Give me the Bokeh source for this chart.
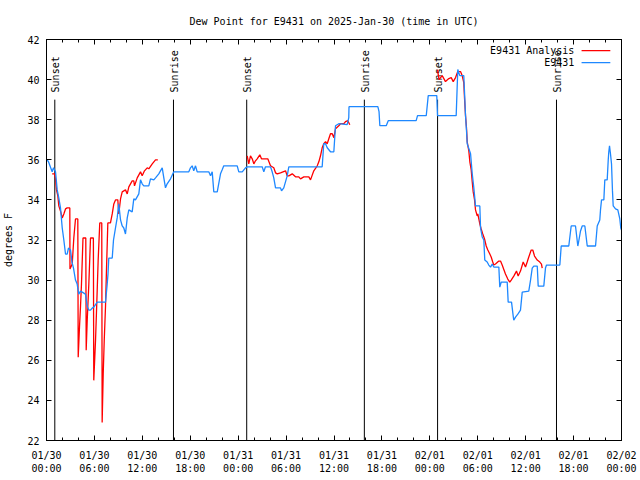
from math import pi
from bokeh.plotting import figure
from bokeh.models import Range1d, FixedTicker, LinearAxis, CustomLabelingPolicy
from bokeh.core.properties import value
from bokeh.embed import file_html
from bokeh.resources import INLINE

FONT = "DejaVu Sans Mono"
RED = "#ff0000"
BLUE = "#1e88ff"

title_text = "Dew Point for E9431 on 2025-Jan-30 (time in UTC)"
y_label = "degrees F"

# x in hours since 2025-01-30 00:00 UTC
x_ticks = [0, 6, 12, 18, 24, 30, 36, 42, 48, 54, 60, 66, 72]
x_tick_labels = ["01/30\n00:00", "01/30\n06:00", "01/30\n12:00", "01/30\n18:00",
                 "01/31\n00:00", "01/31\n06:00", "01/31\n12:00", "01/31\n18:00",
                 "02/01\n00:00", "02/01\n06:00", "02/01\n12:00", "02/01\n18:00",
                 "02/02\n00:00"]
y_ticks = [22, 24, 26, 28, 30, 32, 34, 36, 38, 40, 42]

sun_t = [1.04, 15.9, 25.07, 39.8, 48.97, 63.86]
sun_labels = ["Sunset", "Sunrise", "Sunset", "Sunrise", "Sunset", "Sunrise"]

series_names = ["E9431 Analysis", "E9431"]

# Observations (E9431)
obs_t = [0.0, 0.09, 0.25, 0.71, 0.88, 1.13, 1.34, 1.54, 1.75, 1.97, 2.17, 2.38, 2.59, 2.75,
         3.01, 3.19, 3.38, 3.63, 3.84, 4.04, 4.26, 4.47, 4.88, 5.10, 5.30, 5.51, 5.72, 5.92,
         6.35, 7.39, 7.60, 7.70, 7.80, 8.23, 8.39, 8.64, 8.85, 9.05, 9.27, 9.48, 9.68, 9.89,
         10.11, 10.31, 10.73, 10.93, 11.14, 11.56, 11.77, 11.98, 12.18, 12.81, 13.02, 13.44,
         13.65, 14.06, 14.27, 14.49, 14.69, 14.90, 15.11, 15.53, 15.94, 17.82, 18.03, 18.24,
         18.44, 18.66, 18.87, 20.32, 20.54, 20.75, 20.95, 21.38, 21.79, 22.00, 22.20, 23.88,
         24.08, 24.51, 24.92, 25.13, 27.01, 27.21, 27.42, 28.05, 28.26, 28.46, 28.68, 28.76,
         29.30, 29.43, 29.71, 30.14, 30.34, 34.52, 34.72, 34.94, 35.15, 35.56, 35.98, 36.19,
         36.60, 37.65, 37.85, 37.88, 41.49, 41.64, 41.74, 42.54, 42.79, 46.29, 46.46, 47.55,
         47.80, 48.87, 48.96, 51.30, 51.50, 51.75, 52.25, 52.34, 52.47, 52.60, 52.68, 53.10,
         53.31, 53.51, 53.72, 54.26, 54.35, 54.56, 54.76, 54.88, 55.18, 55.38, 55.60, 55.81,
         56.01, 56.64, 56.76, 56.94, 57.69, 57.81, 58.23, 58.44, 58.51, 58.73, 59.02, 59.35,
         59.57, 60.39, 60.61, 60.82, 61.02, 61.45, 61.57, 62.27, 62.48, 62.61, 64.28, 64.45,
         65.40, 65.70, 66.24, 66.53, 66.65, 66.87, 67.08, 67.41, 67.71, 68.75, 68.96, 69.28,
         69.37, 69.50, 69.79, 69.91, 70.21, 70.34, 70.41, 70.50, 70.62, 70.75, 70.87, 70.96,
         71.25, 71.54, 71.79, 71.91, 72.0]
obs_v = [36.0, 36.0, 35.9, 35.4, 35.6, 35.4, 34.5, 34.1, 33.6, 32.6, 32.0, 31.3, 31.3, 31.6,
         31.5, 30.9, 30.6, 30.0, 29.8, 29.3, 29.45, 29.4, 29.3, 28.7, 28.5, 28.5, 28.6, 28.65,
         28.9, 28.9, 29.8, 30.3, 31.1, 31.1, 32.0, 32.6, 33.1, 33.8, 33.0, 32.7, 32.6, 32.3,
         33.1, 33.5, 33.4, 34.05, 34.0, 34.3, 35.0, 34.8, 34.7, 34.7, 35.05, 35.0,
         35.1, 35.3, 35.45, 35.6, 35.1, 34.6, 34.8, 35.05, 35.4, 35.4, 35.6, 35.7,
         35.45, 35.7, 35.4, 35.4, 35.2, 35.4, 34.4, 34.4, 35.3, 35.5, 35.7, 35.7,
         35.4, 35.4, 35.6, 35.65, 35.65, 35.4, 35.65, 35.65, 35.4, 35.1, 34.6, 34.6,
         34.6, 34.45, 34.6, 35.2, 35.65, 35.65, 36.8, 36.8, 36.6, 36.4, 36.4, 37.7,
         37.8, 37.75, 38.1, 38.65, 38.65, 38.4, 37.7, 37.7, 37.95, 37.95, 38.2, 38.2,
         39.2, 39.2, 38.2, 38.2, 40.5, 40.2, 40.2, 39.4, 38.2, 37.4, 36.8, 36.3,
         35.3, 34.6, 33.7, 33.7, 32.6, 32.15, 32.0, 31.0, 30.9, 30.75, 30.65, 30.8,
         30.65, 30.65, 29.65, 29.9, 29.9, 28.9, 28.9, 28.2, 28.0, 28.15, 28.3, 28.5,
         29.4, 29.45, 30.0, 30.6, 30.7, 30.7, 29.7, 29.7, 30.6, 30.75, 30.75, 31.7,
         31.7, 32.7, 32.7, 31.7, 31.95, 32.45, 32.7, 32.7, 31.7, 31.7, 32.7, 33.0,
         33.5, 34.0, 34.0, 35.0, 35.0, 36.0, 36.4, 36.7, 36.3, 35.8, 34.45, 33.7,
         33.55, 33.5, 33.05, 32.6, 32.5]

# Analysis (E9431 Analysis), three segments
ana1_t = [0.71, 1.0, 1.13, 1.25, 1.42, 1.54, 1.75, 1.97, 2.17, 2.38, 2.59, 2.92, 2.94, 3.22,
          3.42, 3.63, 3.92, 3.97, 4.13, 4.26, 4.38, 4.57, 4.92, 4.97, 5.10, 5.30, 5.51, 5.87,
          5.92, 6.14, 6.35, 6.47, 6.67, 6.92, 6.97, 7.10, 7.23, 7.39, 7.51, 7.68, 8.01, 8.23,
          8.43, 8.64, 8.93, 9.05, 9.27, 9.48, 9.89, 10.11, 10.31, 10.73, 10.93, 11.02, 11.36,
          11.77, 11.98, 12.27, 12.61, 12.81, 13.24, 13.65, 13.94]
ana1_v = [35.3, 35.3, 35.05, 34.5, 34.2, 33.7, 33.45, 33.1, 33.3, 33.55, 33.6, 33.6, 30.55, 30.8,
          32.1, 33.05, 33.05, 26.15, 27.65, 28.7, 29.8, 32.1, 32.1, 26.5, 28.0, 29.8, 32.1, 32.1,
          25.0, 27.0, 29.5, 31.0, 32.85, 32.85, 22.9, 25.3, 27.0, 28.7, 30.5, 32.85, 32.85, 33.3,
          33.8, 34.0, 34.0, 33.3, 34.05, 34.4, 34.5, 34.3, 34.65, 34.95, 34.95, 34.7, 35.1,
          35.4, 35.2, 35.45, 35.6, 35.55, 35.8, 36.0, 36.0]
ana2_t = [25.13, 25.33, 25.54, 25.76, 25.96, 26.17, 26.38, 26.71, 26.92, 27.21, 27.71, 28.05,
          28.46, 28.68, 28.89, 29.30, 29.93, 30.14, 30.34, 30.77, 31.18, 31.59, 31.81, 32.22,
          32.85, 33.06, 33.47, 33.90, 34.10, 34.31, 34.52, 34.72, 34.94, 35.15, 35.35, 35.56,
          35.78, 35.98, 36.19, 36.60, 36.81, 37.23, 37.44, 37.73, 37.98]
ana2_v = [36.2, 35.8, 36.2, 36.05, 35.8, 35.95, 36.05, 36.25, 36.05, 36.05, 36.05, 35.7,
          35.6, 35.35, 35.3, 35.35, 35.45, 35.2, 35.2, 35.3, 35.15, 35.15, 35.05, 35.15,
          35.15, 35.0, 35.45, 35.7, 35.9, 36.2, 36.6, 36.8, 36.9, 36.8, 37.05, 37.3,
          37.3, 37.1, 37.55, 37.7, 37.8, 37.8, 37.9, 37.95, 37.75]
ana3_t = [48.96, 49.15, 49.55, 49.96, 50.38, 50.68, 50.93, 51.22, 51.50, 51.84, 52.05, 52.25,
          52.34, 52.47, 52.59, 52.68, 52.88, 53.01, 53.18, 53.31, 53.43, 53.60, 53.72, 53.93,
          54.01, 54.26, 54.43, 54.63, 54.85, 55.06, 55.26, 55.51, 55.68, 55.88, 56.01, 56.22,
          56.64, 56.85, 57.06, 57.47, 57.76, 58.01, 58.19, 58.51, 58.85, 59.06, 59.35, 59.69,
          59.98, 60.19, 60.39, 60.69, 60.89, 61.11, 61.45, 61.77, 61.98, 62.07]
ana3_v = [40.5, 40.0, 40.2, 39.9, 40.05, 40.1, 39.9, 40.1, 40.4, 40.4, 40.2, 39.85,
          39.1, 38.2, 37.6, 36.9, 36.45, 35.9, 35.5, 34.9, 34.4, 34.0, 33.5, 33.2,
          33.3, 32.8, 32.55, 32.3, 32.05, 31.7, 31.5, 31.3, 31.15, 30.9, 30.75, 30.8,
          30.95, 30.95, 30.75, 30.3, 30.05, 29.9, 30.0, 30.2, 30.45, 30.2, 30.45, 30.9,
          30.65, 30.9, 31.15, 31.5, 31.5, 31.2, 31.0, 30.9, 30.8, 30.6]

X0, X1 = 0, 72
Y0, Y1 = 22, 42

p = figure(width=640, height=480, x_range=Range1d(X0, X1), y_range=Range1d(Y0, Y1),
           output_backend="svg", toolbar_location=None, title=title_text,
           min_border_left=46, min_border_right=19, min_border_top=39, min_border_bottom=40)
p.background_fill_color = "white"
p.border_fill_color = "white"
p.outline_line_color = "black"
p.xgrid.visible = False
p.ygrid.visible = False

p.title.text_font = FONT
p.title.text_font_size = "10px"
p.title.text_font_style = "normal"
p.title.align = "center"
p.title.text_color = "black"
p.title.standoff = 25

minor = list(range(0, 73, 2))

def style_axis(ax, labels=True):
    ax.axis_line_color = "black"
    ax.major_tick_line_color = "black"
    ax.minor_tick_line_color = "black"
    ax.major_tick_in = 5
    ax.major_tick_out = 0
    ax.minor_tick_in = 3
    ax.minor_tick_out = 0
    ax.major_label_text_font = FONT
    ax.major_label_text_color = "black"
    if labels:
        ax.major_label_text_font_size = "10px"
    else:
        ax.major_label_text_font_size = "0px"
        ax.major_label_standoff = 0
        ax.major_label_policy = CustomLabelingPolicy(
            code="for (const i of indices) { indices.unset(i) }\nreturn indices")

xa = p.xaxis[0]
xa.ticker = FixedTicker(ticks=x_ticks, minor_ticks=minor)
xa.major_label_overrides = {t: lab for t, lab in zip(x_ticks, x_tick_labels)}
style_axis(xa)
xa.major_label_standoff = 9

ya = p.yaxis[0]
ya.ticker = FixedTicker(ticks=y_ticks, minor_ticks=[])
style_axis(ya)
ya.major_label_standoff = 7
ya.axis_label = y_label
ya.axis_label_text_font = FONT
ya.axis_label_text_font_size = "10px"
ya.axis_label_text_font_style = "normal"
ya.axis_label_text_color = "black"
ya.axis_label_standoff = 10

top = LinearAxis(ticker=FixedTicker(ticks=x_ticks, minor_ticks=minor))
style_axis(top, labels=False)
p.add_layout(top, "above")
right = LinearAxis(ticker=FixedTicker(ticks=y_ticks, minor_ticks=[]))
style_axis(right, labels=False)
p.add_layout(right, "right")

# sunrise / sunset markers
p.segment(x0=sun_t, y0=[Y0] * len(sun_t), x1=sun_t, y1=[39.0] * len(sun_t),
          line_color="black", line_width=1)
p.text(x=sun_t, y=[39.36] * len(sun_t), text=sun_labels, angle=pi / 2,
       text_font=value(FONT), text_font_size="10px", text_align="left",
       text_baseline="middle", text_color="black", x_offset=1)

# data
for t, v in [(ana1_t, ana1_v), (ana2_t, ana2_v), (ana3_t, ana3_v)]:
    p.line(t, v, line_color=RED, line_width=1.3)
p.line(obs_t, obs_v, line_color=BLUE, line_width=1.3)

# legend (text left of sample, gnuplot style)
leg_colors = [RED, BLUE]
leg_y = [41.45, 40.85]
for name, col, ly in zip(series_names, leg_colors, leg_y):
    p.text(x=[66.1], y=[ly], text=[name], text_font=value(FONT), text_font_size="10px",
           text_align="right", text_baseline="middle", text_color="black")
    p.line([67.0, 70.6], [ly, ly], line_color=col, line_width=1.3)

open("out.html", "w").write(file_html(p, INLINE))
